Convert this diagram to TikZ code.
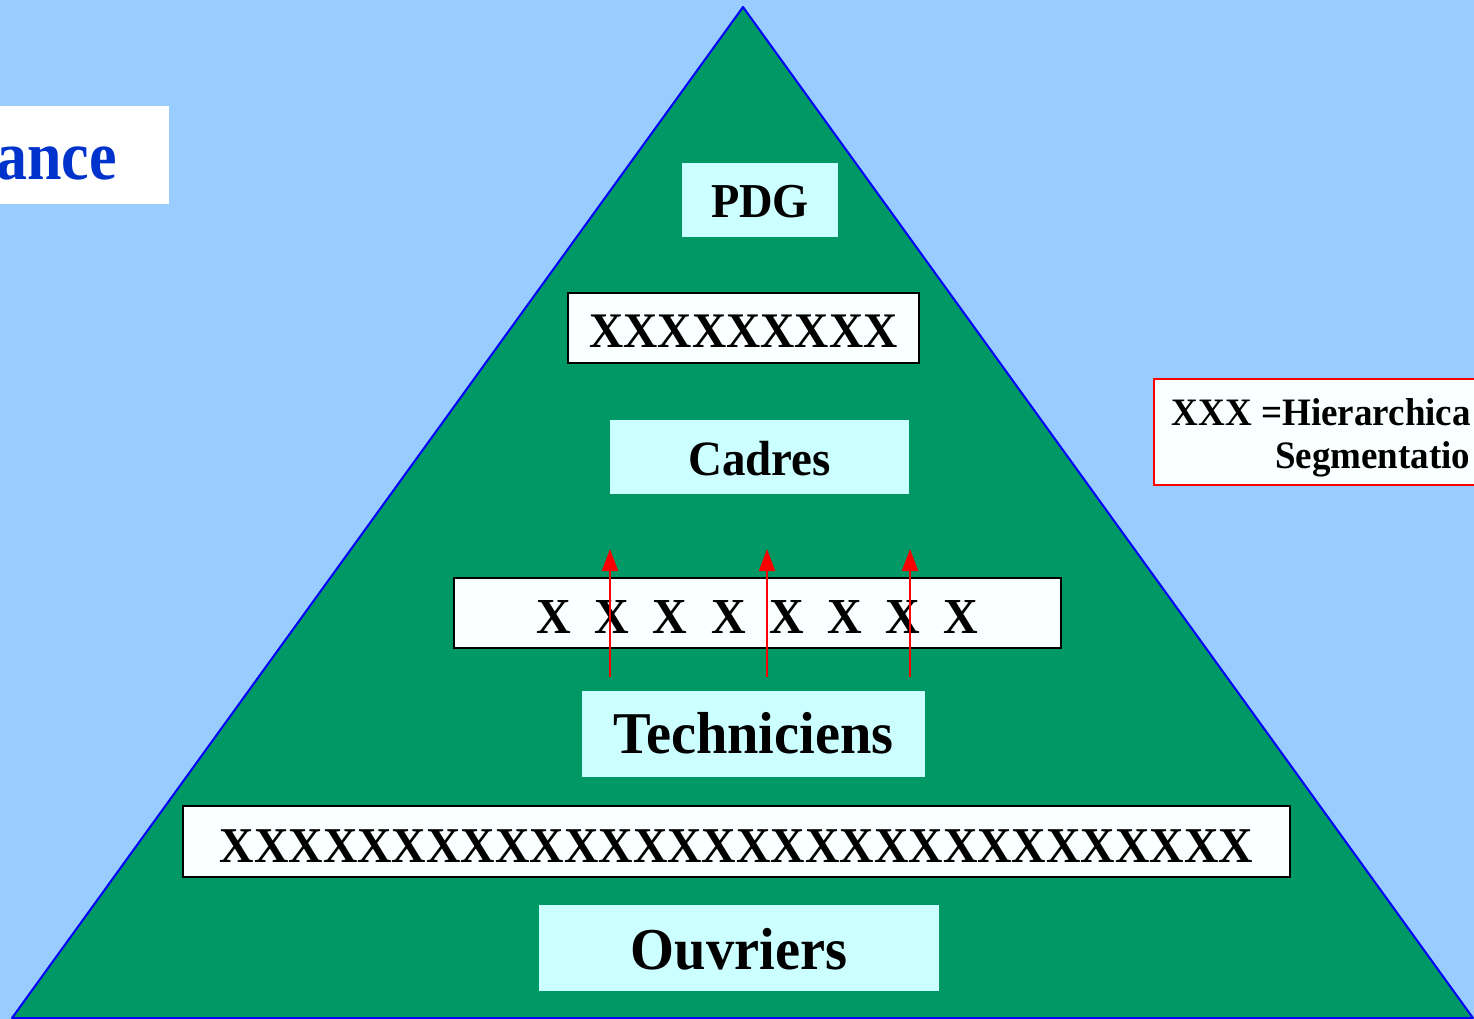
\documentclass[tikz,border=0pt]{standalone}
\usepackage{fontspec}
\setmainfont{Liberation Serif}
\usepackage{graphicx}
\usetikzlibrary{arrows.meta}

\definecolor{sky}{HTML}{99CCFF}
\definecolor{pyr}{HTML}{009966}
\definecolor{pale}{HTML}{CCFFFF}
\definecolor{snow}{HTML}{FAFFFF}
\definecolor{titleblue}{HTML}{0033CC}

% slightly taller lettering
\newcommand\tallish[1]{\scalebox{1}[1.05]{#1}}
\newcommand\bsize[1]{\bfseries\fontsize{#1pt}{#1pt}\selectfont}
\newcommand\xgap{\hspace{23.5pt}}

\begin{document}
\begin{tikzpicture}[x=1pt,y=-1pt,
  level/.style={fill=pale, inner sep=0pt, text depth=0pt},
  gapbox/.style={fill=snow, draw=black, line width=2pt, inner sep=0pt, text depth=0pt},
  push/.style={red, line width=2pt, -{Triangle[length=22pt,width=16pt]}}]

  % canvas
  \useasboundingbox (0,0) rectangle (1474,1019);
  \fill[sky] (0,0) rectangle (1474,1019);
  \clip (0,0) rectangle (1474,1019);

  % title plate
  \node[fill=white, inner sep=0pt, minimum width=169pt, minimum height=98pt,
        anchor=north west] (titlebox) at (0,106) {};
  \node[anchor=base east, inner sep=0pt, text=titleblue, font=\bsize{62}]
        (title) at (117,180) {\scalebox{1}[1.12]{ance}};

  % pyramid
  \draw[fill=pyr, draw=blue, line width=2pt, line join=round]
        (743,7) -- (12,1018) -- (1473,1018) -- cycle;

  % levels and barriers
  \node[level, minimum width=156pt, minimum height=74pt, text height=36pt,
        font=\bsize{46.4}] (pdg) at (760,200) {\tallish{PDG}};
  \node[gapbox, minimum width=351pt, minimum height=70pt, text height=38pt,
        font=\bsize{47.4}] (bar1) at (743.5,328) {\tallish{XXXXXXXXX}};
  \node[level, minimum width=299pt, minimum height=74pt, text height=36pt,
        font=\bsize{47}] (cadres) at (759.5,457) {\tallish{Cadres}};
  \node[gapbox, minimum width=607pt, minimum height=70pt, text height=40pt,
        font=\bsize{48}] (bar2) at (757.5,613)
        {\tallish{X\xgap X\xgap X\xgap X\xgap X\xgap X\xgap X\xgap X}};
  \node[level, minimum width=343pt, minimum height=86pt, text height=40pt,
        font=\bsize{56.4}] (tech) at (753.5,733.8) {\tallish{Techniciens}};
  \node[gapbox, minimum width=1107pt, minimum height=71pt, text height=41pt,
        font=\bsize{47.7}] (bar3) at (736.5,841.5)
        {\tallish{XXXXXXXXXXXXXXXXXXXXXXXXXXXXXX}};
  \node[level, minimum width=400pt, minimum height=86pt, text height=42pt,
        font=\bsize{56.5}] (ouv) at (739,948) {\tallish{Ouvriers}};

  % upward pushes through the barrier
  \coordinate (b1) at (610,677);  \coordinate (t1) at (610,549);
  \coordinate (b2) at (767,677);  \coordinate (t2) at (767,549);
  \coordinate (b3) at (910,677);  \coordinate (t3) at (910,549);
  \draw[push] (b1) -- (t1);
  \draw[push] (b2) -- (t2);
  \draw[push] (b3) -- (t3);

  % legend
  \node[fill=snow, draw=red, line width=2pt, inner sep=0pt, minimum width=400pt,
        minimum height=106pt, anchor=north west] (legend) at (1153,378) {};
  \node[anchor=base west, inner sep=0pt, font=\bsize{37}] (leg1) at (1171.7,425)
        {\tallish{XXX =Hierarchica}};
  \node[anchor=base west, inner sep=0pt, font=\bsize{37}] (leg2) at (1275,468)
        {\tallish{Segmentatio}};
\end{tikzpicture}
\end{document}
